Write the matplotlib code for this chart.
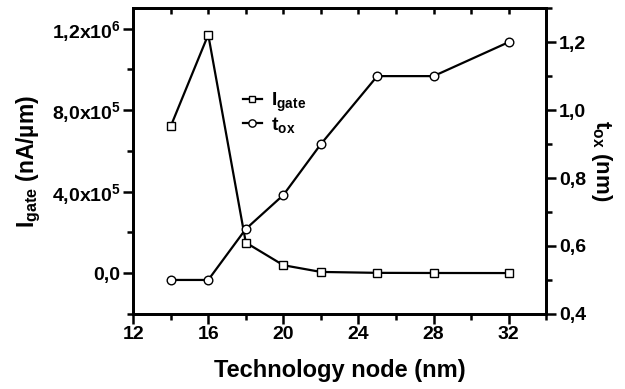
import matplotlib
matplotlib.use("Agg")
import matplotlib.pyplot as plt
from matplotlib.ticker import MultipleLocator

plt.rcParams["font.family"] = ["Liberation Sans", "DejaVu Sans"]
plt.rcParams["font.weight"] = "bold"
plt.rcParams["mathtext.fontset"] = "custom"
plt.rcParams["mathtext.rm"] = "Liberation Sans:bold"
plt.rcParams["mathtext.bf"] = "Liberation Sans:bold"
plt.rcParams["mathtext.it"] = "Liberation Sans:bold"

# data
node = [14, 16, 18, 20, 22, 25, 28, 32]
i_gate = [7.2e5, 1.17e6, 1.5e5, 3.9e4, 6e3, 1.5e3, 800, 500]
t_ox = [0.50, 0.50, 0.65, 0.75, 0.90, 1.10, 1.10, 1.20]

x_ticks = [12, 16, 20, 24, 28, 32]
left_ticks = [0.0, 4.0e5, 8.0e5, 1.2e6]
left_labels = ["0,0", "4,0x10$^{5}$", "8,0x10$^{5}$", "1,2x10$^{6}$"]
right_ticks = [0.4, 0.6, 0.8, 1.0, 1.2]
right_labels = ["0,4", "0,6", "0,8", "1,0", "1,2"]

fig = plt.figure(figsize=(6.25, 3.89), dpi=100)
ax = fig.add_axes([0.213, 0.193, 0.661, 0.786])
ax2 = ax.twinx()

style = dict(color="black", lw=1.6, markerfacecolor="white",
             markeredgecolor="black", markeredgewidth=1.0)
l1, = ax.plot(node, i_gate, marker="s", markersize=5.5,
              label=r"I$_{\mathbf{gate}}$", **style)
l2, = ax2.plot(node, t_ox, marker="o", markersize=6.2,
               label=r"t$_{\mathbf{ox}}$", **style)

ax.set_xlim(12, 34)
ax.set_ylim(-2e5, 1.3e6)
ax2.set_ylim(0.4, 1.3)

ax.set_xticks(x_ticks)
ax.set_xticklabels([str(v) for v in x_ticks])
ax.xaxis.set_minor_locator(MultipleLocator(2))
ax.set_yticks(left_ticks)
ax.set_yticklabels(left_labels)
ax.yaxis.set_minor_locator(MultipleLocator(2e5))
ax2.set_yticks(right_ticks)
ax2.set_yticklabels(right_labels)
ax2.yaxis.set_minor_locator(MultipleLocator(0.1))

for a in (ax, ax2):
    for s in a.spines.values():
        s.set_linewidth(2)
    a.tick_params(which="major", length=7, width=1.8, labelsize=14, pad=2)
    a.tick_params(which="minor", length=4, width=1.8)

ax.tick_params(axis="x", which="both", top=False, direction="out")
ax.tick_params(axis="y", which="both", direction="out")
ax2.tick_params(axis="y", which="both", direction="out")

# top ticks point inward
sec = ax.secondary_xaxis("top")
sec.set_xticks(list(range(14, 34, 2)))
sec.set_xticklabels([])
sec.tick_params(direction="in", length=4, width=1.8)
sec.spines["top"].set_visible(False)

ax.set_xlabel("Technology node (nm)", fontsize=17, fontweight="bold", labelpad=11)
ax.set_ylabel(r"I$_{\mathbf{gate}}$ (nA/µm)", fontsize=16.5, fontweight="bold", labelpad=6)
ax2.set_ylabel(r"t$_{\mathbf{ox}}$ (nm)", fontsize=16, fontweight="bold",
               rotation=270, labelpad=20)

ax.legend(handles=[l1, l2], loc="upper left", bbox_to_anchor=(0.265, 0.73),
          frameon=False, fontsize=14, handlelength=1.0, handletextpad=0.45,
          labelspacing=0.05, borderaxespad=0, borderpad=0, markerscale=0.85)

fig.savefig("out.png", dpi=100)
